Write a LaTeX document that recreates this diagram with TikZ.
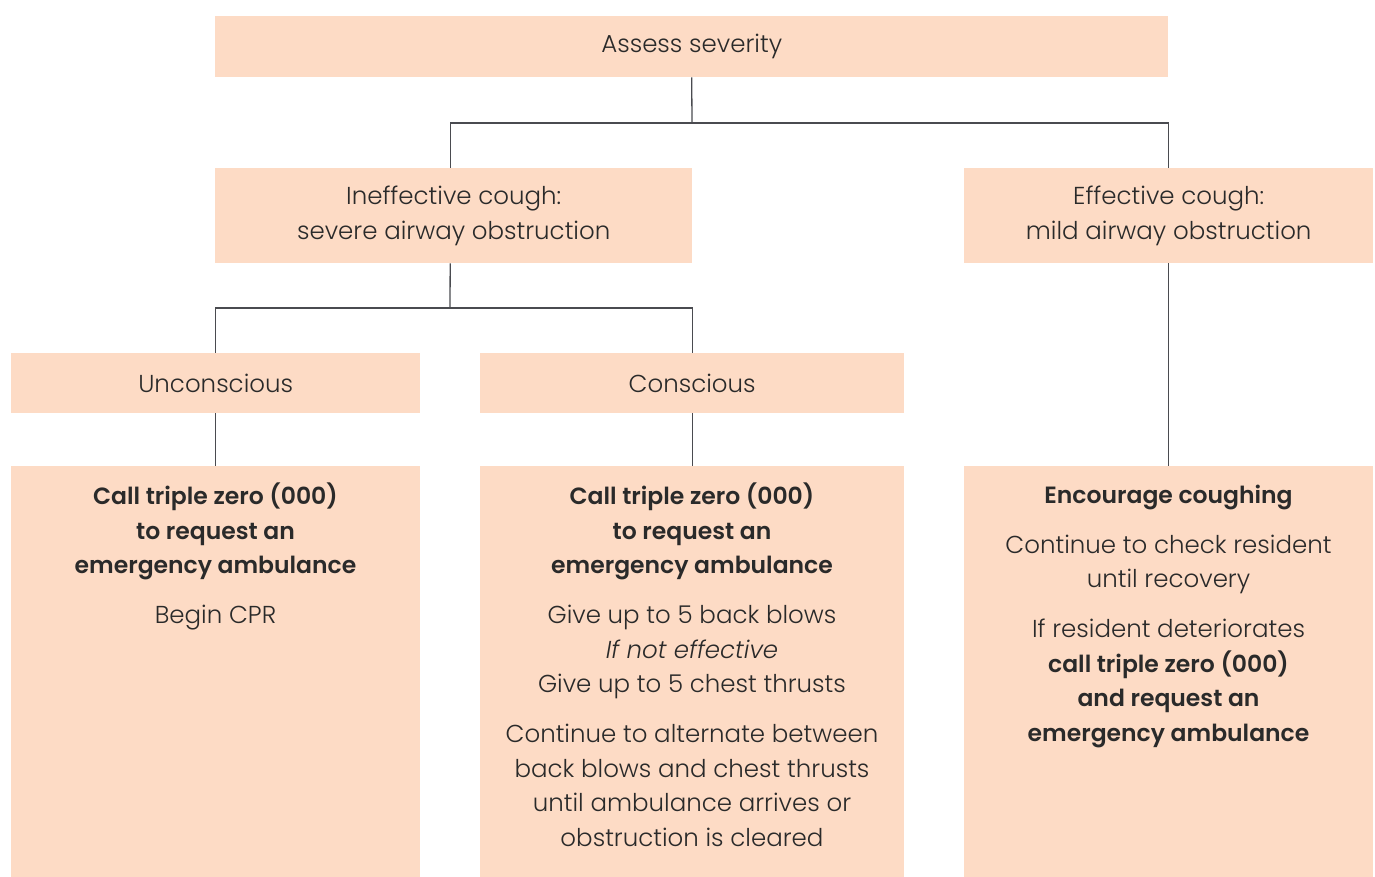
\documentclass[tikz,border=0pt]{standalone}
\usepackage{fontspec}
\setmainfont{Poppins}[UprightFont={Poppins Light},ItalicFont={Poppins Light Italic},BoldFont={Poppins SemiBold}]
\definecolor{boxfill}{HTML}{FDDBC5}
\definecolor{txt}{HTML}{2A2A2A}
\definecolor{linec}{HTML}{4A4B50}
\newcommand{\fl}{\rule{0pt}{20pt}}
\newcommand{\bt}[1]{{\fontsize{23.5}{34.5}\selectfont\bfseries #1}}
\begin{document}
\begin{tikzpicture}[x=1pt,y=1pt,
  box/.style={fill=boxfill, draw=none, inner sep=0pt, anchor=north west, align=center,
    text=txt, font=\fontsize{24.5}{34.5}\selectfont},
  body/.style={inner sep=0pt, anchor=north, align=center, text=txt,
    font=\fontsize{24.5}{34.5}\selectfont},
  conn/.style={draw=linec, line width=1.3pt}]
\useasboundingbox (0,0) rectangle (1375,-877);
% boxes
\node[box, minimum width=953pt, minimum height=61pt] (top) at (215,-16) {Assess severity};
\node[box, minimum width=477pt, minimum height=95pt] (A) at (215,-168) {Ineffective cough:\\severe airway obstruction};
\node[box, minimum width=409pt, minimum height=95pt] (B) at (964,-168) {Effective cough:\\mild airway obstruction};
\node[box, minimum width=409pt, minimum height=60pt] (U) at (11,-353) {Unconscious};
\node[box, minimum width=424pt, minimum height=60pt] (C) at (480,-353) {Conscious};
\node[box, minimum width=409pt, minimum height=411pt] (UL) at (11,-466) {};
\node[box, minimum width=424pt, minimum height=411pt] (CL) at (480,-466) {};
\node[box, minimum width=409pt, minimum height=411pt] (BL) at (964,-466) {};
% texts
\node[body] (ULt) at (215.5,-483) {\fl\bt{Call triple zero (000)}\\\bt{to request an}\\\bt{emergency ambulance}\\[15.5pt]Begin CPR};
\node[body] (CLt) at (692,-483) {\fl\bt{Call triple zero (000)}\\\bt{to request an}\\\bt{emergency ambulance}\\[15.5pt]Give up to 5 back blows\\\textit{If not effective}\\Give up to 5 chest thrusts\\[15.5pt]Continue to alternate between\\back blows and chest thrusts\\until ambulance arrives or\\obstruction is cleared};
\node[body] (BLt) at (1168.5,-483) {\fl\bt{Encourage coughing}\\[15.5pt]Continue to check resident\\until recovery\\[15.5pt]If resident deteriorates\\\bt{call triple zero (000)}\\\bt{and request an}\\\bt{emergency ambulance}};
% connectors
\coordinate (j1) at (692,-123);
\coordinate (j2) at (450,-308);
\draw[conn] (top.south) -- (j1);
\draw[conn] (j1) -| ([xshift=-3.5pt]A.north);
\draw[conn] (j1) -| (B.north);
\draw[conn] ([xshift=-3.5pt]A.south) -- (j2);
\draw[conn] (j2) -| (U.north);
\draw[conn] (j2) -| (C.north);
\draw[conn] (U.south) -- (UL.north);
\draw[conn] (C.south) -- (CL.north);
\draw[conn] (B.south) -- (BL.north);
\end{tikzpicture}
\end{document}
